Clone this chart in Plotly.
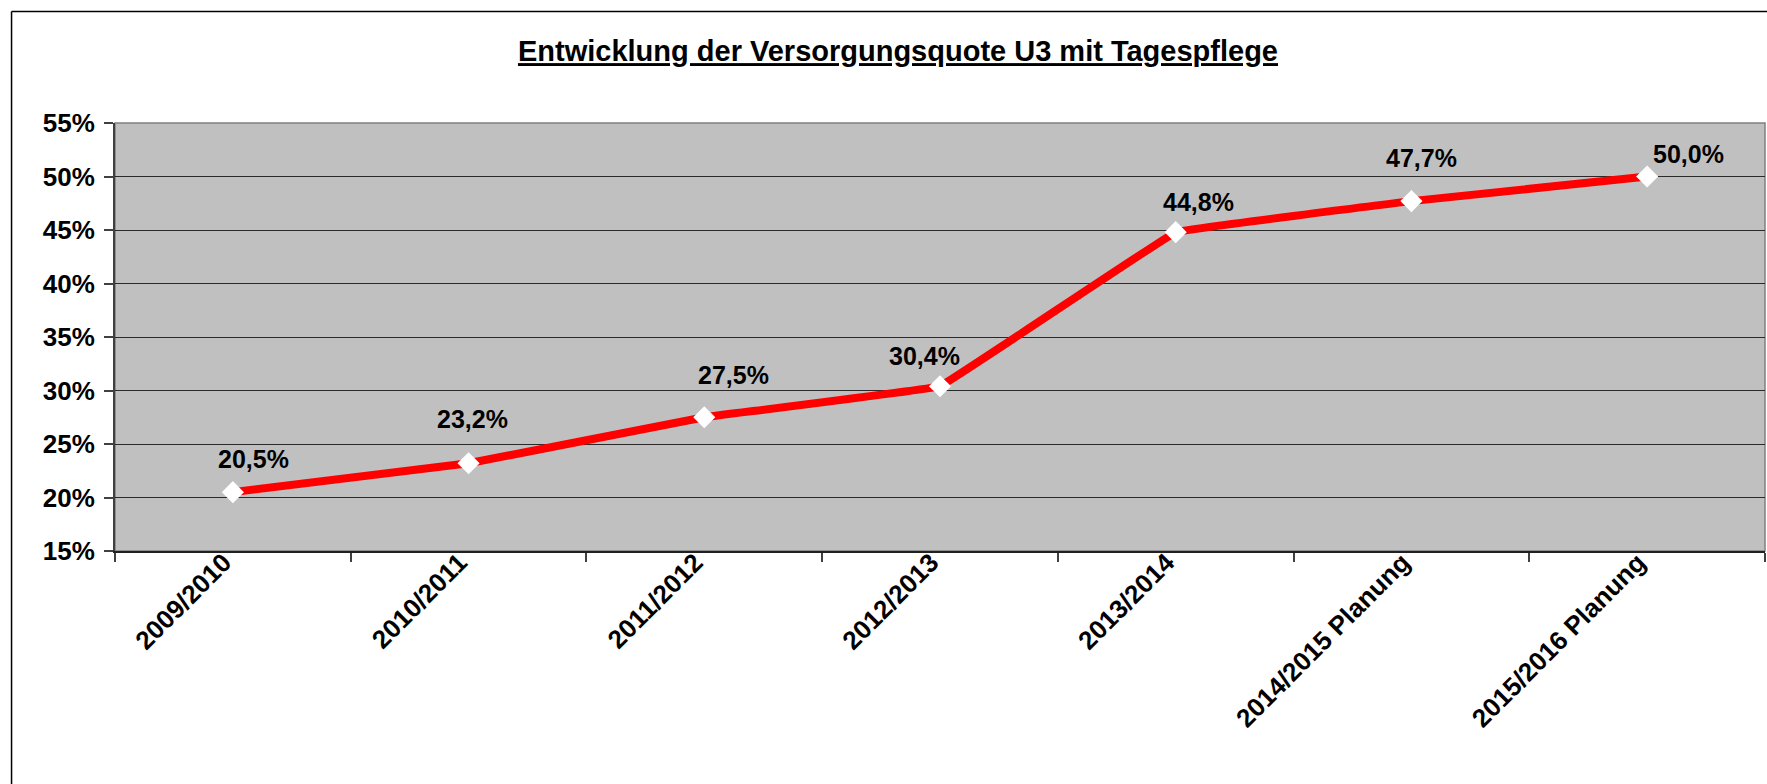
import plotly.graph_objects as go

categories = ["2009/2010", "2010/2011", "2011/2012", "2012/2013", "2013/2014",
              "2014/2015 Planung", "2015/2016 Planung"]
quote = [20.5, 23.2, 27.5, 30.4, 44.8, 47.7, 50.0]
y_ticks = [15, 20, 25, 30, 35, 40, 45, 50, 55]

# label placement tweaks (pixels), as placed in the original
label_dx = [21, 4, 29, -16, 23, 10, 41]
label_dy = [33, 44, 42, 30, 30, 43, 23]

FONT = "Liberation Sans, Arial, sans-serif"

fig = go.Figure()
fig.add_trace(go.Scatter(
    x=categories, y=quote, mode="lines+markers",
    line=dict(color="#FF0000", width=8, shape="spline", smoothing=0.1),
    marker=dict(symbol="diamond", size=17, color="white", line=dict(width=0)),
    hoverinfo="skip", showlegend=False,
))

for c, v, dx, dy in zip(categories, quote, label_dx, label_dy):
    fig.add_annotation(x=c, y=v, text=f"{v:.1f}".replace(".", ",") + "%",
                       showarrow=False, xshift=dx, yshift=dy,
                       font=dict(family=FONT, size=25, color="black", weight="bold"))

# outer chart border (left and top edges visible)
fig.add_shape(type="line", xref="paper", yref="paper",
              x0=-0.0627, x1=-0.0627, y0=-0.7, y1=1.2605,
              line=dict(color="black", width=1.5), layer="below")
fig.add_shape(type="line", xref="paper", yref="paper",
              x0=-0.0627, x1=1.1, y0=1.2605, y1=1.2605,
              line=dict(color="black", width=1.5), layer="below")
# plot-area border
fig.add_shape(type="rect", xref="paper", yref="paper", x0=0, x1=1, y0=0, y1=1,
              line=dict(color="#808080", width=1.5), layer="below")

fig.update_layout(
    width=1767, height=784,
    margin=dict(l=115, r=2, t=123, b=233),
    paper_bgcolor="white", plot_bgcolor="#C0C0C0",
    title=dict(text="Entwicklung der Versorgungsquote U3 mit Tagespflege",
               xref="container", x=0.5082, xanchor="center",
               yref="container", y=0.935, yanchor="middle",
               font=dict(family=FONT, size=29, color="black", weight="bold",
                         lineposition="under")),
    xaxis=dict(type="category", range=[-0.5, 6.5], tickson="boundaries",
               ticks="outside", ticklen=9, tickcolor="#404040", tickwidth=1.5,
               tickangle=-45, showgrid=False,
               ticklabelstandoff=-16, ticklabelshift=-9,
               showline=True, linecolor="#202020", linewidth=2,
               tickfont=dict(family=FONT, size=26, color="black", weight="bold")),
    yaxis=dict(range=[15, 55], tickmode="array", tickvals=y_ticks,
               ticktext=[f"{t}%" for t in y_ticks],
               ticks="outside", ticklen=9, tickcolor="#404040", tickwidth=1.5,
               ticklabelstandoff=4,
               showgrid=True, gridcolor="#2a2a2a", gridwidth=1, zeroline=False,
               showline=True, linecolor="#404040", linewidth=2,
               tickfont=dict(family=FONT, size=26, color="black", weight="bold")),
)

fig.write_html("out.html", config={"displayModeBar": False},
               post_script="document.body.style.margin='0';document.body.style.overflow='hidden';")
